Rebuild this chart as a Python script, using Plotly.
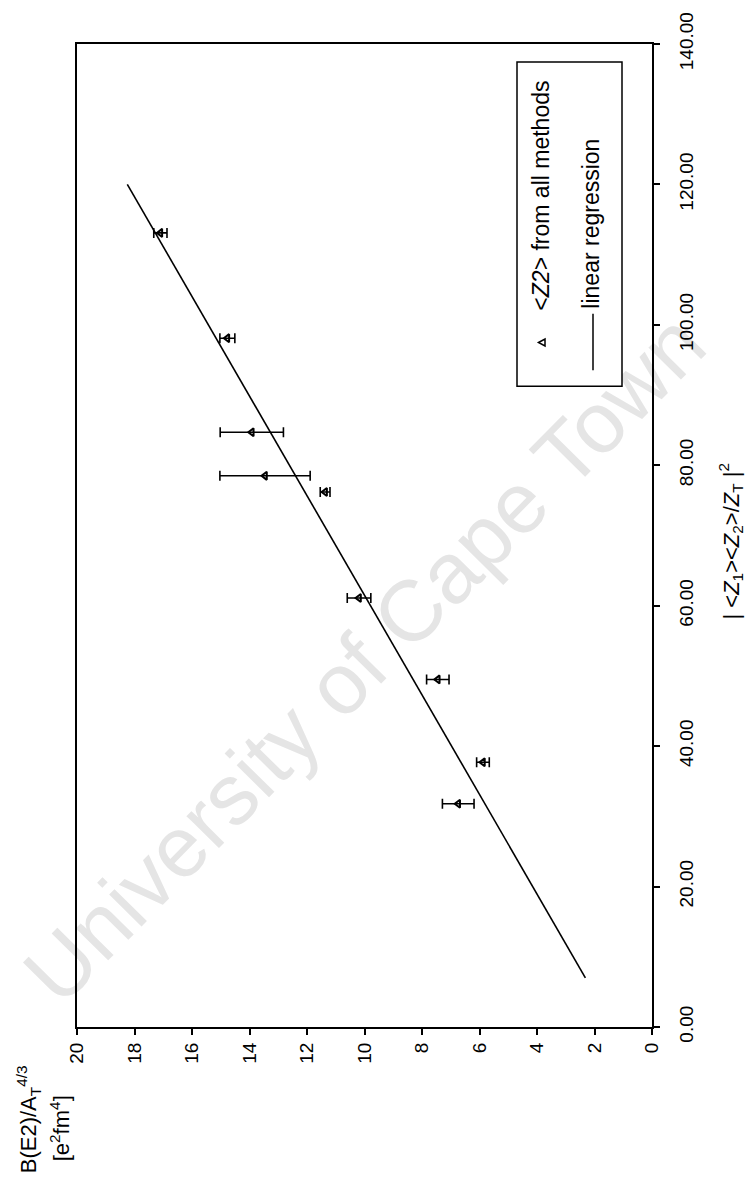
import numpy as np
import plotly.graph_objects as go

# |<Z1><Z2>/ZT|^2 for each system
z_factor = [31.8, 37.7, 49.5, 61.1, 76.2, 78.5, 84.7, 98.1, 113.1]
# B(E2)/A_T^(4/3) in e^2 fm^4, with uncertainties
be2 = [6.74, 5.88, 7.45, 10.19, 11.37, 13.46, 13.92, 14.77, 17.10]
be2_err = [0.55, 0.22, 0.39, 0.41, 0.17, 1.57, 1.10, 0.26, 0.23]

# linear regression
fit_slope = 0.141
fit_intercept = 1.33
fit_range = [7.0, 120.0]

z_ticks = [0, 20, 40, 60, 80, 100, 120, 140]
b_ticks = [0, 2, 4, 6, 8, 10, 12, 14, 16, 18, 20]

FONT = "Liberation Sans"
W, H = 749, 1177
L, R, T, B = 77, 652, 39, 1027   # plot area in pixels


def px(xp):
    return (xp - L) / (R - L)


def py(yp):
    return (B - yp) / (B - T)


fit_z = np.array(fit_range)
fit_b = fit_intercept + fit_slope * fit_z

fig = go.Figure()

fig.add_trace(go.Scatter(
    x=fit_b, y=fit_z, mode="lines",
    line=dict(color="black", width=1.6),
    showlegend=False, hoverinfo="skip",
))

fig.add_trace(go.Scatter(
    x=be2, y=z_factor, mode="markers",
    marker=dict(symbol="triangle-left-open", size=7, color="black",
                line=dict(color="black", width=2)),
    error_x=dict(type="data", array=be2_err, visible=True,
                 color="black", thickness=1.6, width=5),
    showlegend=False,
))

shapes = []
annotations = []

# faint watermark running diagonally across the page
shapes.append(dict(
    type="line", xref="paper", yref="paper",
    x0=px(50), y0=py(1035), x1=px(735), y1=py(340),
    line=dict(color="rgba(0,0,0,0)", width=0),
    layer="below",
    label=dict(text="University of Cape Town", textangle=-45.4,
               textposition="middle",
               font=dict(family=FONT, size=86, color="rgb(229,229,229)")),
))

# legend box
shapes.append(dict(
    type="rect", xref="paper", yref="paper",
    x0=px(517), x1=px(622), y0=py(383), y1=py(57),
    line=dict(color="black", width=1.5), fillcolor="white", layer="above",
))
# legend: triangle symbol
tri = "M {},{} L {},{} L {},{} Z".format(
    px(538.5), py(339), px(545), py(335.5), px(545), py(342.5))
shapes.append(dict(type="path", xref="paper", yref="paper", path=tri,
                   line=dict(color="black", width=1.5)))
# legend: line sample
shapes.append(dict(type="line", xref="paper", yref="paper",
                   x0=px(593), x1=px(593), y0=py(367), y1=py(310),
                   line=dict(color="black", width=1.5)))

annotations.append(dict(
    xref="paper", yref="paper", x=px(541), y=py(309),
    xanchor="center", yanchor="bottom", textangle=-90, showarrow=False,
    text="&lt;<i>Z2</i>&gt; from all methods",
    font=dict(family=FONT, size=23, color="black"),
))
annotations.append(dict(
    xref="paper", yref="paper", x=px(591), y=py(307),
    xanchor="center", yanchor="bottom", textangle=-90, showarrow=False,
    text="linear regression",
    font=dict(family=FONT, size=23, color="black"),
))

# axis titles
annotations.append(dict(
    xref="paper", yref="paper", x=px(731), y=py(620),
    xanchor="center", yanchor="bottom", textangle=-90, showarrow=False,
    text="| &lt;<i>Z</i><sub>1</sub>&gt;&lt;<i>Z</i><sub>2</sub>&gt;/<i>Z</i><sub>T</sub> |<sup>2</sup>",
    font=dict(family=FONT, size=22, color="black"),
))
annotations.append(dict(
    xref="paper", yref="paper", x=px(28), y=py(1176),
    xanchor="center", yanchor="bottom", textangle=-90, showarrow=False,
    text="B(E2)/A<sub>T</sub><sup>4/3</sup>",
    font=dict(family=FONT, size=22, color="black"),
))
annotations.append(dict(
    xref="paper", yref="paper", x=px(60), y=py(1164),
    xanchor="center", yanchor="bottom", textangle=-90, showarrow=False,
    text="[e<sup>2</sup>fm<sup>4</sup>]",
    font=dict(family=FONT, size=22, color="black"),
))

fig.update_layout(
    width=W, height=H,
    margin=dict(l=L, r=W - R, t=T, b=H - B),
    paper_bgcolor="white", plot_bgcolor="rgba(0,0,0,0)",
    font=dict(family=FONT, color="black"),
    shapes=shapes, annotations=annotations,
    xaxis=dict(
        range=[20, 0], tickmode="array", tickvals=b_ticks,
        ticktext=[str(v) for v in b_ticks], tickangle=-90,
        ticks="outside", ticklen=6, tickwidth=1.5, tickcolor="black",
        showline=True, linecolor="black", linewidth=2, mirror=True,
        showgrid=False, zeroline=False,
        tickfont=dict(family=FONT, size=19, color="black"),
    ),
    yaxis=dict(
        range=[0, 140], side="right", tickmode="array", tickvals=z_ticks,
        ticktext=["{:.2f}".format(v) for v in z_ticks], tickangle=-90,
        ticks="outside", ticklen=6, tickwidth=1.5, tickcolor="black",
        showline=True, linecolor="black", linewidth=2, mirror=True,
        showgrid=False, zeroline=False, ticklabelstandoff=10,
        tickfont=dict(family=FONT, size=19, color="black"),
    ),
)

fig.write_html("out.html")
